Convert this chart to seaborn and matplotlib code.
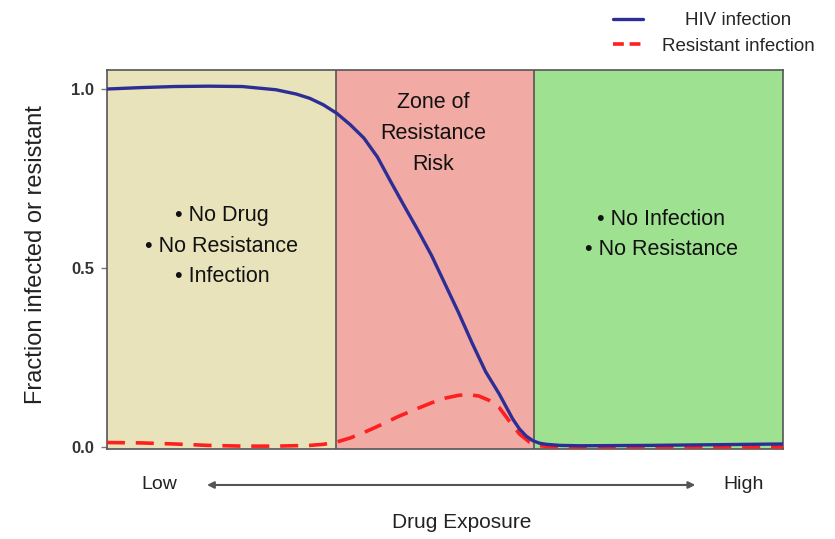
import numpy as np
import pandas as pd
import seaborn as sns
import matplotlib.pyplot as plt

# values (x = drug exposure, arbitrary 0-10 scale)
hiv_x = [0, 0.5, 1.0, 1.5, 2.0, 2.5, 2.8, 3.0, 3.2, 3.4, 3.6, 3.8, 4.0, 4.2,
         4.4, 4.6, 4.8, 5.0, 5.2, 5.4, 5.6, 5.8, 6.0, 6.1, 6.2, 6.3, 6.4, 6.5,
         6.7, 7.0, 8.0, 9.0, 10.0]
hiv_y = [1.0, 1.004, 1.007, 1.008, 1.007, 0.998, 0.986, 0.974, 0.956, 0.932,
         0.9, 0.863, 0.81, 0.74, 0.672, 0.605, 0.535, 0.455, 0.375, 0.29,
         0.21, 0.148, 0.078, 0.05, 0.03, 0.017, 0.01, 0.007, 0.004, 0.003,
         0.004, 0.006, 0.008]

res_x = [0, 0.5, 1.0, 1.5, 2.0, 2.5, 3.0, 3.2, 3.39, 3.6, 3.8, 4.0, 4.3, 4.55,
         4.8, 5.0, 5.2, 5.35, 5.5, 5.65, 5.8, 5.95, 6.1, 6.25, 6.4, 6.6, 7.0,
         8.0, 9.0, 10.0]
res_y = [0.012, 0.011, 0.008, 0.004, 0.002, 0.002, 0.004, 0.007, 0.013, 0.025,
         0.04, 0.057, 0.084, 0.104, 0.123, 0.136, 0.144, 0.146, 0.142, 0.13,
         0.11, 0.072, 0.036, 0.013, 0.003, 0.0, 0.0, 0.0, 0.0, 0.0]

zone_edges = [0, 3.39, 6.32, 10]
zone_colors = ['#e8e3bb', '#f2aaa4', '#9de191']
zone_texts = ['\u2022 No Drug\n\u2022 No Resistance\n\u2022 Infection',
              'Zone of\nResistance\nRisk',
              '\u2022 No Infection\n\u2022 No Resistance']

sns.set_style('white')
plt.rcParams['font.family'] = ['Liberation Sans', 'DejaVu Sans']

fig = plt.figure(figsize=(8.35, 5.39), dpi=100)
ax = fig.add_axes([0.128, 0.167, 0.81, 0.703])

for i in range(3):
    ax.axvspan(zone_edges[i], zone_edges[i + 1], color=zone_colors[i], lw=0, zorder=0)
for e in zone_edges[1:3]:
    ax.axvline(e, color='#555555', lw=1.2, zorder=1)

df_hiv = pd.DataFrame({'x': hiv_x, 'y': hiv_y})
df_res = pd.DataFrame({'x': res_x, 'y': res_y})
sns.lineplot(data=df_res, x='x', y='y', ax=ax, color='#ff1f1f', lw=2.6,
             label='Resistant infection', zorder=3)
ax.lines[-1].set_dashes([5, 3])
sns.lineplot(data=df_hiv, x='x', y='y', ax=ax, color='#2c2e96', lw=2.4,
             label='HIV infection', zorder=4)

# zone labels
ax.text(1.70, 0.561, zone_texts[0], ha='center', va='center', fontsize=15.5,
        linespacing=1.6, color='#111111')
ax.text(4.82, 0.876, zone_texts[1], ha='center', va='center', fontsize=15.5,
        linespacing=1.6, color='#111111')
ax.text(8.2, 0.594, zone_texts[2], ha='center', va='center', fontsize=15.5,
        linespacing=1.6, color='#111111')

ax.set_xlim(0, 10)
ax.set_ylim(-0.006, 1.053)
ax.set_xticks([])
ax.set_yticks([0.0, 0.5, 1.0])
ax.set_yticklabels(['0.0', '0.5', '1.0'], fontweight='bold')
ax.tick_params(axis='y', left=True, length=4, width=1, color='#777777',
               labelsize=12, labelcolor='#333333', pad=5)
ax.set_xlabel('')
ax.set_ylabel('Fraction infected or resistant', fontsize=17, color='#222222')
ax.yaxis.set_label_coords(-0.088, 0.514)
for s in ax.spines.values():
    s.set_color('#555555')
    s.set_linewidth(1.2)

# drug exposure axis annotation
ax.annotate('', xy=(0.148, -0.095), xytext=(0.870, -0.095), xycoords='axes fraction',
            arrowprops=dict(arrowstyle='<|-|>', color='#555555', lw=1.5,
                            mutation_scale=10, shrinkA=0, shrinkB=0),
            annotation_clip=False)
ax.text(0.078, -0.095, 'Low', transform=ax.transAxes, ha='center', va='center',
        fontsize=14, color='#222222')
ax.text(0.942, -0.095, 'High', transform=ax.transAxes, ha='center', va='center',
        fontsize=14, color='#222222')
ax.text(0.525, -0.195, 'Drug Exposure', transform=ax.transAxes, ha='center', va='center',
        fontsize=15, color='#222222')

# legend in the top right, outside the plot
handles, labels = ax.get_legend_handles_labels()
order = [1, 0]
leg = ax.legend([handles[i] for i in order], [labels[i] for i in order],
                loc='upper right', bbox_to_anchor=(0.99, 1.0), bbox_transform=fig.transFigure,
                frameon=False, fontsize=13.5, handlelength=1.6, handletextpad=1.0,
                labelspacing=0.45, borderpad=0.15)
leg.legend_handles[1].set_dashes([3, 1.6])
fig.canvas.draw()
texts = leg.get_texts()
r = fig.canvas.get_renderer()
w0 = texts[0].get_window_extent(r).width
w1 = texts[1].get_window_extent(r).width
texts[0].set_position(((w1 - w0) / 2, 0))

fig.savefig('out.png', dpi=100)
